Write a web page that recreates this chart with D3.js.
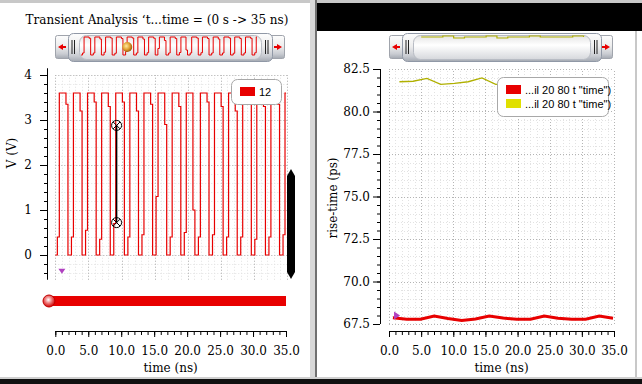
<!DOCTYPE html>
<html>
<head>
<meta charset="utf-8">
<script src="https://cdn.jsdelivr.net/npm/d3@7"></script>
<style>
body { margin: 0; background: #fff; }
svg { display: block; }
.tick text { font-family: "DejaVu Serif", serif; font-size: 12px; fill: #000; }
</style>
</head>
<body>
<script>
// chart data
var timeTicks = [0, 5, 10, 15, 20, 25, 30, 35];
var voltTicks = [0, 1, 2, 3, 4];
var riseTicks = [67.5, 70, 72.5, 75, 77.5, 80, 82.5];

// square wave edges on net 12 (ns) and the level of the one-sample step on each edge (V)
var vLow = 0, vHigh = 3.6;
var riseEdgeTimes = [0.61, 2.75, 4.89, 7.03, 9.17, 11.31, 13.45, 15.59, 17.73, 19.87, 22.01, 24.15, 26.29, 28.43, 30.57, 32.71, 34.85];
var riseEdgeStep  = [0.40, 0.40, 0.55, 0.35, 0.70, 0.40, 0.45, 1.30, 0.40, 0.50, 0.40, 0.45, 0.40, 0.40, 0.35, 0.40, 0.45];
var fallEdgeTimes = [1.62, 3.76, 5.90, 8.04, 10.18, 12.32, 14.46, 16.60, 18.74, 20.88, 23.02, 25.16, 27.30, 29.44, 31.58, 33.72];
var fallEdgeStep  = [3.35, 3.20, 3.40, 3.30, 3.40, 3.20, 3.35, 2.90, 3.30, 1.00, 3.40, 3.30, 3.20, 3.40, 3.30, 3.35];

// rise time 20/80 (ps), red, measured at each rising edge
var riseSeriesTimes = riseEdgeTimes;
var riseSeriesVals = [67.87, 67.78, 67.78, 67.97, 67.82, 67.70, 67.80, 67.97, 67.85, 67.78, 67.78, 67.97, 67.84, 67.78, 67.78, 67.97, 67.84];
// second series, yellow
var yellowTimes = fallEdgeTimes;
var yellowVals = [81.75, 81.78, 81.95, 81.60, 81.65, 81.75, 81.98, 81.60, 81.66, 81.72, 81.96, 81.62, 81.66, 81.72, 81.97, 81.62];

var cursorTime = 9.3;
var cursorLevels = [0.72, 2.88];
var legendLeft = ["12"];
var legendRight = ['...il 20 80 t "time")', '...il 20 80 t "time")'];
var titleText = "Transient Analysis \u2018t...time = (0 s -> 35 ns)";

var red = "#e80000", yellow = "#e0e000", yellowLine = "#b0b000";

var width = 642, height = 384;
var svg = d3.select("body").append("svg").attr("width", width).attr("height", height);
var defs = svg.append("defs");

// scales
var xL = d3.scaleLinear().domain([0, 35]).range([55.3, 286]);
var yL = d3.scaleLinear().domain([0, 4]).range([255, 75]);
var xR = d3.scaleLinear().domain([0, 35]).range([389, 614]);
var yR = d3.scaleLinear().domain([67.5, 82.5]).range([324, 69]);

// gradients
var g1 = defs.append("linearGradient").attr("id", "barGrad").attr("x1", 0).attr("y1", 0).attr("x2", 0).attr("y2", 1);
g1.append("stop").attr("offset", "0%").attr("stop-color", "#fdfdfd");
g1.append("stop").attr("offset", "45%").attr("stop-color", "#eeeeee");
g1.append("stop").attr("offset", "80%").attr("stop-color", "#c9ccd2");
g1.append("stop").attr("offset", "100%").attr("stop-color", "#a4a9b2");
var g2 = defs.append("linearGradient").attr("id", "innerGrad").attr("x1", 0).attr("y1", 0).attr("x2", 0).attr("y2", 1);
g2.append("stop").attr("offset", "0%").attr("stop-color", "#e4e4e4");
g2.append("stop").attr("offset", "40%").attr("stop-color", "#ffffff");
g2.append("stop").attr("offset", "100%").attr("stop-color", "#d6d8dc");
var g3 = defs.append("radialGradient").attr("id", "knobRed").attr("cx", "45%").attr("cy", "40%").attr("r", "60%");
g3.append("stop").attr("offset", "0%").attr("stop-color", "#ffffff");
g3.append("stop").attr("offset", "45%").attr("stop-color", "#f08080");
g3.append("stop").attr("offset", "100%").attr("stop-color", "#d00000");
var g4 = defs.append("radialGradient").attr("id", "knobOrange").attr("cx", "40%").attr("cy", "40%").attr("r", "60%");
g4.append("stop").attr("offset", "0%").attr("stop-color", "#ffe8a0");
g4.append("stop").attr("offset", "60%").attr("stop-color", "#e0a030");
g4.append("stop").attr("offset", "100%").attr("stop-color", "#a06010");

// frame
svg.append("rect").attr("x", 0).attr("y", 0).attr("width", width).attr("height", 3).attr("fill", "#c8c8c8");
svg.append("rect").attr("x", 317).attr("y", 3).attr("width", 325).attr("height", 28).attr("fill", "#000");
svg.append("rect").attr("x", 310).attr("y", 0).attr("width", 5).attr("height", height).attr("fill", "#d8d8d8");
svg.append("rect").attr("x", 315).attr("y", 0).attr("width", 2).attr("height", height).attr("fill", "#707070");
svg.append("rect").attr("x", 635).attr("y", 31).attr("width", 2).attr("height", 348).attr("fill", "#c8c8c8");
svg.append("rect").attr("x", 0).attr("y", 377).attr("width", width).attr("height", 2).attr("fill", "#d0d0d0");
svg.append("rect").attr("x", 0).attr("y", 379).attr("width", width).attr("height", 5).attr("fill", "#111");

// title
svg.append("text").attr("x", 157).attr("y", 24).attr("text-anchor", "middle")
    .style("font-family", "DejaVu Serif, serif").style("font-size", "12px").text(titleText);

// grids
function grid(g, xs, ys, xTicks, yTicks, color, dash) {
    g.selectAll(".gx").data(xTicks).enter().append("line")
        .attr("x1", function(d) { return Math.round(xs(d)) + 0.5; }).attr("x2", function(d) { return Math.round(xs(d)) + 0.5; })
        .attr("y1", ys.range()[0]).attr("y2", ys.range()[1])
        .attr("stroke", color).attr("stroke-dasharray", dash);
    g.selectAll(".gy").data(yTicks).enter().append("line")
        .attr("y1", function(d) { return Math.round(ys(d)) + 0.5; }).attr("y2", function(d) { return Math.round(ys(d)) + 0.5; })
        .attr("x1", xs.range()[0]).attr("x2", xs.range()[1])
        .attr("stroke", color).attr("stroke-dasharray", dash);
}
var minorT = d3.range(0, 36, 1);
var minorV = d3.range(-2, 21, 1).map(function(d) { return d / 5; });
var minorR = d3.range(135, 166, 1).map(function(d) { return d / 2; });

var yLgrid = d3.scaleLinear().domain([-0.55, 4.0]).range([yL(-0.55), yL(4.0)]);
var xLgrid = d3.scaleLinear().domain([0, 35]).range([55.3, 287]);
grid(svg.append("g"), xLgrid, yLgrid, minorT, minorV, "#e2e2e2", "1,2");
grid(svg.append("g"), xLgrid, yLgrid, timeTicks, voltTicks, "#b4b4b4", "1,2");
grid(svg.append("g"), xR, yR, minorT, minorR, "#e2e2e2", "1,2");
grid(svg.append("g"), xR, yR, timeTicks, riseTicks, "#b4b4b4", "1,2");

// axes
function styleAxis(g) {
    g.selectAll(".domain").remove();
    g.selectAll(".tick line").attr("stroke", "#000");
}
var axL = svg.append("g").attr("transform", "translate(47,0)")
    .call(d3.axisLeft(yL).tickValues(voltTicks).tickSize(7).tickPadding(8).tickFormat(d3.format("d")));
styleAxis(axL);
var axLm = svg.append("g").attr("transform", "translate(47,0)")
    .call(d3.axisLeft(yL).tickValues(minorV).tickSize(3).tickFormat(""));
styleAxis(axLm);
svg.append("line").attr("x1", 47.5).attr("x2", 47.5).attr("y1", yL(4.15)).attr("y2", yL(-0.55)).attr("stroke", "#000");

var axR = svg.append("g").attr("transform", "translate(380,0)")
    .call(d3.axisLeft(yR).tickValues(riseTicks).tickSize(7).tickPadding(3).tickFormat(d3.format(".1f")));
styleAxis(axR);
var axRm = svg.append("g").attr("transform", "translate(380,0)")
    .call(d3.axisLeft(yR).tickValues(minorR).tickSize(3).tickFormat(""));
styleAxis(axRm);
svg.append("line").attr("x1", 380.5).attr("x2", 380.5).attr("y1", yR(82.5)).attr("y2", yR(67.5)).attr("stroke", "#000");

function timeAxis(xs, y0) {
    var a = svg.append("g").attr("transform", "translate(0," + y0 + ")")
        .call(d3.axisBottom(xs).tickValues(timeTicks).tickSize(6).tickPadding(9).tickFormat(d3.format(".1f")));
    styleAxis(a);
    var m = svg.append("g").attr("transform", "translate(0," + y0 + ")")
        .call(d3.axisBottom(xs).tickValues(minorT).tickSize(4).tickFormat(""));
    styleAxis(m);
    svg.append("line").attr("x1", xs(0)).attr("x2", xs(35)).attr("y1", y0 + 0.5).attr("y2", y0 + 0.5).attr("stroke", "#000");
    svg.append("text").attr("x", (xs(0) + xs(35)) / 2).attr("y", 372).attr("text-anchor", "middle")
        .style("font-family", "DejaVu Serif, serif").style("font-size", "12px").text("time (ns)");
}
timeAxis(xL, 331);
timeAxis(xR, 331);

svg.append("text").attr("transform", "translate(16,153) rotate(-90)").attr("text-anchor", "middle")
    .style("font-family", "DejaVu Serif, serif").style("font-size", "12px").text("V (V)");
svg.append("text").attr("transform", "translate(337,198) rotate(-90)").attr("text-anchor", "middle")
    .style("font-family", "DejaVu Serif, serif").style("font-size", "12px").text("rise-time (ps)");

// waveform points built from the edge lists
var wave = [[0, vLow]];
var stepW = 0.3;
riseEdgeTimes.forEach(function(tr, i) {
    wave.push([tr - stepW, vLow], [tr - stepW, riseEdgeStep[i]], [tr, riseEdgeStep[i]], [tr, vHigh]);
    if (i < fallEdgeTimes.length) {
        var tf = fallEdgeTimes[i];
        wave.push([tf, vHigh], [tf, fallEdgeStep[i]], [tf + stepW, fallEdgeStep[i]], [tf + stepW, vLow]);
    }
});
wave.push([35, vHigh]);

var waveLine = d3.line().x(function(d) { return xL(d[0]); }).y(function(d) { return yL(d[1]); });
svg.append("path").datum(wave).attr("d", waveLine).attr("fill", "none").attr("stroke", red).attr("stroke-width", 1.2);

// cursor
svg.append("line").attr("x1", xL(cursorTime)).attr("x2", xL(cursorTime))
    .attr("y1", yL(cursorLevels[0])).attr("y2", yL(cursorLevels[1])).attr("stroke", "#000").attr("stroke-width", 1.5);
cursorLevels.forEach(function(v) {
    var cx = xL(cursorTime), cy = yL(v);
    svg.append("circle").attr("cx", cx).attr("cy", cy).attr("r", 5).attr("fill", "none").attr("stroke", "#000");
    svg.append("path").attr("d", "M" + (cx - 3.5) + "," + (cy - 3.5) + "L" + (cx + 3.5) + "," + (cy + 3.5) +
        "M" + (cx + 3.5) + "," + (cy - 3.5) + "L" + (cx - 3.5) + "," + (cy + 3.5)).attr("stroke", "#000");
});

// left marker, bus bar and black slider
var mx = xL(1.0), my = yL(-0.35);
svg.append("path").attr("d", "M" + (mx - 3.5) + "," + (my - 2) + "L" + (mx + 3.5) + "," + (my - 2) + "L" + mx + "," + (my + 3) + "Z")
    .attr("fill", "#b040c0");
svg.append("rect").attr("x", 49).attr("y", 296).attr("width", xL(35) - 49).attr("height", 10).attr("fill", red);
svg.append("circle").attr("cx", 49).attr("cy", 301).attr("r", 6).attr("fill", "url(#knobRed)").attr("stroke", "#c00000");
svg.append("path").attr("d", "M287,176 L291,169 L295,176 L295,272 L291,279 L287,272 Z").attr("fill", "#000");

// right series
var lineR = d3.line().x(function(d) { return xR(d[0]); }).y(function(d) { return yR(d[1]); });
var yellowPts = yellowTimes.map(function(t, i) { return [t, yellowVals[i]]; });
var redPts = riseSeriesTimes.map(function(t, i) { return [t, riseSeriesVals[i]]; });
svg.append("path").datum(yellowPts).attr("d", lineR).attr("fill", "none").attr("stroke", yellowLine).attr("stroke-width", 1.3);
svg.append("path").datum(redPts).attr("d", lineR).attr("fill", "none").attr("stroke", red).attr("stroke-width", 3);
var rx = xR(1.25), ry = yR(68.0);
svg.append("path").attr("d", "M" + (rx - 3) + "," + (ry - 4) + "L" + (rx + 3) + "," + ry + "L" + (rx - 3) + "," + (ry + 4) + "Z")
    .attr("fill", "#b040c0");

// legends
function legend(x, y, w, labels, colors) {
    var h = 11 + labels.length * 14;
    svg.append("rect").attr("x", x + 0.5).attr("y", y + 0.5).attr("width", w).attr("height", h)
        .attr("rx", 6).attr("fill", "#fff").attr("stroke", "#a8a8a8");
    labels.forEach(function(l, i) {
        svg.append("rect").attr("x", x + 9).attr("y", y + 8 + i * 14).attr("width", 15).attr("height", 9).attr("fill", colors[i]);
        svg.append("text").attr("x", x + 28).attr("y", y + 17 + i * 14)
            .style("font-family", "Liberation Sans, sans-serif").style("font-size", "11px").text(l);
    });
}
legend(231, 79, 50, legendLeft, [red]);
legend(497, 77, 111, legendRight, [red, yellow]);

// scroll bars
function scrollBar(x0, x1, tx0, tx1) {
    var g = svg.append("g");
    g.append("rect").attr("x", x0 + 0.5).attr("y", 35.5).attr("width", x1 - x0 - 1).attr("height", 23)
        .attr("rx", 2).attr("fill", "url(#barGrad)").attr("stroke", "#a0a4ac");
    g.append("rect").attr("x", tx0 + 0.5).attr("y", 33.5).attr("width", tx1 - tx0).attr("height", 28)
        .attr("rx", 5).attr("fill", "url(#barGrad)").attr("stroke", "#9098a6");
    g.append("rect").attr("x", tx0 + 11.5).attr("y", 35.5).attr("width", tx1 - tx0 - 22).attr("height", 24)
        .attr("rx", 7).attr("fill", "url(#innerGrad)").attr("stroke", "#b8bcc4");
    [tx0 + 4, tx0 + 6.5, tx1 - 6.5, tx1 - 4].forEach(function(gx) {
        g.append("line").attr("x1", gx).attr("x2", gx).attr("y1", 40).attr("y2", 54).attr("stroke", "#222").attr("stroke-width", 1);
    });
    var ax = x0 + 6, bx = x1 - 6;
    g.append("path").attr("d", "M" + (ax - 3) + ",47 L" + (ax + 2) + ",44 L" + (ax + 2) + ",50 Z M" + (ax + 2) + ",46 h3 v2 h-3 Z").attr("fill", red);
    g.append("path").attr("d", "M" + (bx + 3) + ",47 L" + (bx - 2) + ",44 L" + (bx - 2) + ",50 Z M" + (bx - 2) + ",46 h-3 v2 h3 Z").attr("fill", red);
    return g;
}
scrollBar(55, 285, 68, 272);
scrollBar(389, 613, 402, 601);

// overview traces inside the scroll bars
var xMiniL = d3.scaleLinear().domain([0, 35]).range([81, 257]);
var yMiniL = d3.scaleLinear().domain([0, 3.6]).range([55, 37]);
svg.append("path").datum(wave).attr("fill", "none").attr("stroke", red).attr("stroke-width", 1)
    .attr("d", d3.line().x(function(d) { return xMiniL(d[0]); }).y(function(d) { return yMiniL(d[1]); }));
svg.append("circle").attr("cx", xMiniL(9.2)).attr("cy", 47).attr("r", 5).attr("fill", "url(#knobOrange)");

var xMiniR = d3.scaleLinear().domain([0, 35]).range([413, 590]);
var yMiniR = d3.scaleLinear().domain([81.6, 82.0]).range([37.5, 35.5]);
svg.append("path").datum(yellowPts).attr("fill", "none").attr("stroke", yellowLine).attr("stroke-width", 1.2)
    .attr("d", d3.line().curve(d3.curveStepAfter).x(function(d) { return xMiniR(d[0]); }).y(function(d) { return Math.round(yMiniR(d[1])); }));
</script>
</body>
</html>
